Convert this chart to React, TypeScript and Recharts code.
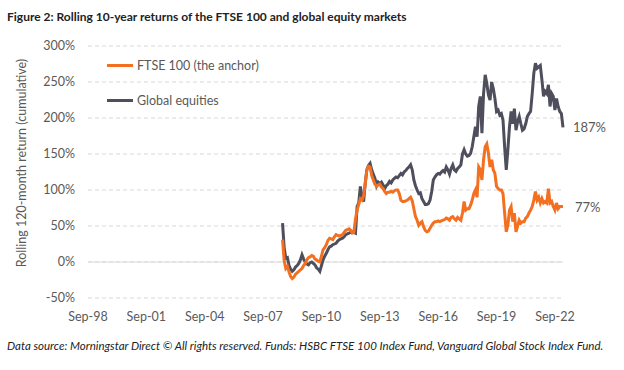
import React from 'react';
import { LineChart, Line, XAxis, YAxis, CartesianGrid, ReferenceLine, LabelList } from 'recharts';

// colours
const FTSE_COLOR = '#F37021';
const GLOBAL_COLOR = '#4E4E5C';
const GRID_COLOR = '#D9D9D9';
const TEXT_COLOR = '#595959';
const FONT = 'Lato, sans-serif';

// monthly categories, Sep-98 .. Feb-23
const MONTH_NAMES = ['Jan', 'Feb', 'Mar', 'Apr', 'May', 'Jun', 'Jul', 'Aug', 'Sep', 'Oct', 'Nov', 'Dec'];
const FIRST_YEAR = 1998;
const FIRST_MONTH = 8; // Sep
const MONTH_COUNT = 294;
const SERIES_START = 120; // first rolling 10-year value: Sep-08

const X_TICKS = ['Sep-98', 'Sep-01', 'Sep-04', 'Sep-07', 'Sep-10', 'Sep-13', 'Sep-16', 'Sep-19', 'Sep-22'];
const Y_TICKS = [-50, 0, 50, 100, 150, 200, 250, 300];

// rolling 120-month return (%), monthly from Sep-08
const ftse = [
  31, 2, -9, -6, -14, -20, -23, -21, -17, -15, -13, -11,
  -9, -5, -2, 3, 6, 7, 9, 8, 4, 3, 1, 0,
  8, 17, 20, 24, 30, 33, 32, 31, 35, 38, 37, 36,
  37, 38, 41, 44, 45, 46, 44, 40, 41, 60, 72, 80,
  88, 86, 92, 108, 128, 133, 132, 120, 114, 108, 105, 107,
  108, 104, 102, 98, 95, 97, 97, 98, 97, 99, 100, 100,
  95, 86, 84, 84, 85, 86, 88, 90, 85, 74, 63, 58,
  51, 54, 56, 49, 44, 42, 43, 47, 51, 54, 56, 56,
  57, 56, 57, 58, 59, 61, 60, 58, 62, 63, 60, 58,
  62, 60, 58, 68, 84, 72, 74, 74, 79, 86, 95, 100,
  90, 132, 128, 114, 142, 160, 164, 151, 132, 142, 128, 123,
  105, 102, 100, 100, 95, 68, 42, 51, 72, 77, 56, 68,
  42, 50, 58, 54, 56, 56, 61, 63, 68, 72, 77, 86,
  98, 86, 90, 82, 88, 82, 84, 82, 102, 82, 84, 77,
  72, 82, 74, 77, 77, 77,
];

const globalEq = [
  54, 20, 5, 6, -5, -10, -13, -11, -7, -5, -2, 3,
  10, 4, 0, -3, -4, -1, 0, -2, -4, -8, -10, -13,
  -5, 3, 8, 12, 17, 21, 22, 24, 25, 26, 29, 31,
  32, 33, 35, 38, 39, 40, 41, 42, 41, 40, 77, 82,
  105, 91, 84, 109, 128, 134, 137, 128, 122, 116, 106, 111,
  109, 111, 107, 102, 106, 108, 112, 110, 114, 116, 118, 117,
  120, 123, 121, 125, 127, 130, 132, 135, 128, 114, 106, 100,
  95, 96, 88, 84, 80, 80, 81, 86, 98, 114, 118, 121,
  123, 122, 125, 127, 125, 132, 128, 122, 130, 135, 128, 126,
  130, 132, 135, 150, 156, 150, 147, 148, 151, 160, 174, 188,
  174, 216, 230, 179, 234, 260, 248, 232, 225, 250, 241, 227,
  209, 211, 204, 206, 197, 160, 128, 156, 188, 209, 192, 213,
  183, 195, 202, 192, 183, 185, 192, 202, 206, 209, 234, 262,
  276, 269, 271, 273, 253, 230, 237, 234, 246, 216, 234, 230,
  211, 227, 216, 209, 206, 187,
];

const months = Array.from({ length: MONTH_COUNT }, (_, i) => {
  const m = FIRST_MONTH + i;
  const yr = (FIRST_YEAR + Math.floor(m / 12)) % 100;
  return `${MONTH_NAMES[m % 12]}-${String(yr).padStart(2, '0')}`;
});

const data = months.map((month, i) => ({
  month,
  ftse: i >= SERIES_START ? ftse[i - SERIES_START] ?? null : null,
  global: i >= SERIES_START ? globalEq[i - SERIES_START] ?? null : null,
}));

const LAST = MONTH_COUNT - 1;

const LEGEND_ITEMS = [
  { name: 'FTSE 100 (the anchor)', color: FTSE_COLOR },
  { name: 'Global equities', color: GLOBAL_COLOR },
];

// value label only at the final point of each line
const endLabel = (dx: number) => (props: any) => {
  const { x, y, value, index } = props;
  if (index !== LAST) return null;
  return (
    <text x={x + dx} y={y} dy={5} fontSize={13} fill={TEXT_COLOR} fontFamily={FONT}>
      {`${value}%`}
    </text>
  );
};

const App: React.FC = () => {
  return (
    <div style={{ position: 'absolute', left: 0, top: 0, width: 624, height: 370, background: '#fff', fontFamily: FONT }}>
      <div style={{ position: 'absolute', left: 7, top: 9, fontSize: 12, fontWeight: 700, color: '#222' }}>
        Figure 2: Rolling 10-year returns of the FTSE 100 and global equity markets
      </div>
      <div
        style={{
          position: 'absolute', left: 22 - 150, top: 163 - 9, width: 300, height: 18, lineHeight: '18px',
          textAlign: 'center', transform: 'rotate(-90deg)', fontSize: 12.5, color: TEXT_COLOR,
        }}
      >
        Rolling 120-month return (cumulative)
      </div>
      <LineChart width={624} height={370} data={data} margin={{ top: 46, right: 61, bottom: 42, left: 28 }}>
        <CartesianGrid vertical={false} stroke={GRID_COLOR} strokeDasharray="4 3" />
        <ReferenceLine y={0} stroke={GRID_COLOR} strokeWidth={1} />
        <XAxis
          dataKey="month"
          ticks={X_TICKS}
          interval={0}
          axisLine={false}
          tickLine={false}
          height={30}
          tickMargin={8}
          tick={{ fontSize: 12.5, fill: TEXT_COLOR, fontFamily: FONT }}
        />
        <YAxis
          domain={[-50, 300]}
          ticks={Y_TICKS}
          interval={0}
          width={60}
          axisLine={false}
          tickLine={false}
          tickMargin={7}
          tickFormatter={(v: number) => `${v}%`}
          tick={{ fontSize: 12.5, fill: TEXT_COLOR, fontFamily: FONT }}
        />
        <Line
          type="linear"
          dataKey="global"
          stroke={GLOBAL_COLOR}
          strokeWidth={3}
          dot={false}
          isAnimationActive={false}
        >
          <LabelList dataKey="global" content={endLabel(10)} />
        </Line>
        <Line
          type="linear"
          dataKey="ftse"
          stroke={FTSE_COLOR}
          strokeWidth={3}
          dot={false}
          isAnimationActive={false}
        >
          <LabelList dataKey="ftse" content={endLabel(12)} />
        </Line>
      </LineChart>
      {/* legend sits inside the plot, top left */}
      <div style={{ position: 'absolute', left: 107, top: 55, fontSize: 12.5, color: TEXT_COLOR }}>
        {LEGEND_ITEMS.map((item, i) => (
          <div key={item.name} style={{ display: 'flex', alignItems: 'center', height: 20, marginBottom: i === 0 ? 15 : 0 }}>
            <span style={{ display: 'inline-block', width: 26, height: 3, background: item.color, marginRight: 4 }} />
            {item.name}
          </div>
        ))}
      </div>
      <div style={{ position: 'absolute', left: 7, top: 339, fontSize: 11.5, fontStyle: 'italic', color: '#222', whiteSpace: 'nowrap' }}>
        Data source: Morningstar Direct © All rights reserved. Funds: HSBC FTSE 100 Index Fund, Vanguard Global Stock Index Fund.
      </div>
    </div>
  );
};

export default App;
